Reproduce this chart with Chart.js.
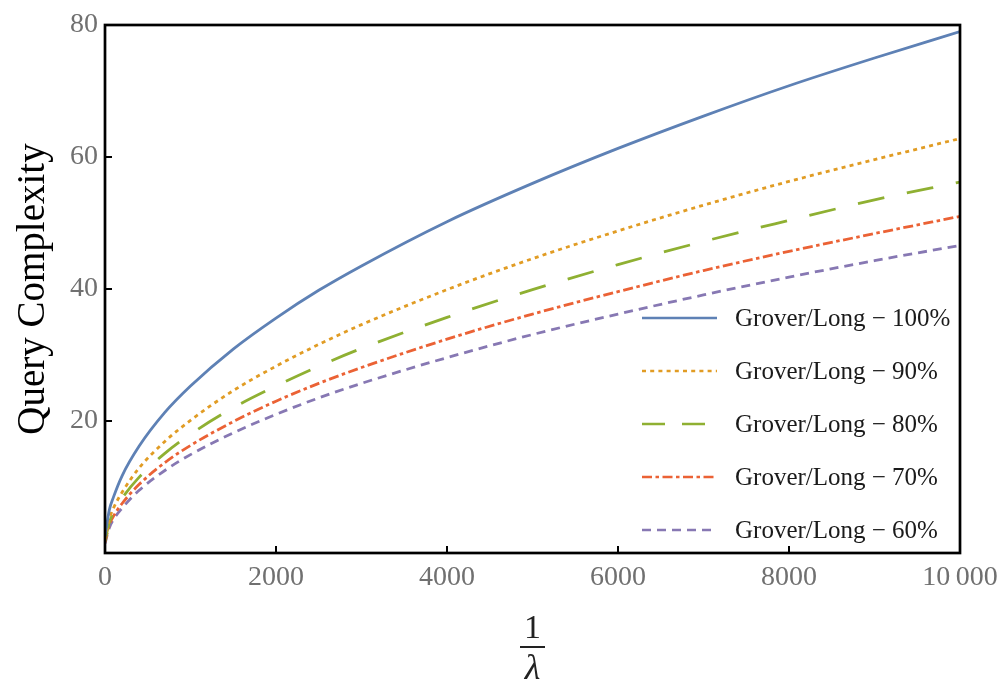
<!DOCTYPE html>
<html><head><meta charset="utf-8">
<script src="https://cdn.jsdelivr.net/npm/chart.js@4/dist/chart.umd.min.js"></script>
<style>html,body{margin:0;padding:0;background:#fff;overflow:hidden}#wrap{width:999px;height:682px}</style>
</head><body><div id="wrap"><canvas id="c" width="999" height="682"></canvas></div>
<script>
// ---- data ----
const xValues = [0, 50, 100, 200, 400, 700, 1000, 1500, 2000, 2500, 3000, 4000, 5000, 6000, 7000, 8000, 9000, 10000];
const seriesLabels = ['Grover/Long \u2212 100%', 'Grover/Long \u2212 90%', 'Grover/Long \u2212 80%', 'Grover/Long \u2212 70%', 'Grover/Long \u2212 60%'];
const p100 = [2.5, 6.5, 8.5, 11.7, 16.2, 21.3, 25.3, 30.9, 35.6, 39.8, 43.5, 50.2, 56.0, 61.3, 66.2, 70.8, 75.0, 79.0];
const p90  = [2.0, 5.1, 6.8, 9.2, 12.9, 16.9, 20.1, 24.6, 28.3, 31.6, 34.6, 39.9, 44.6, 48.8, 52.7, 56.3, 59.6, 62.8];
const p80  = [1.8, 4.6, 6.1, 8.3, 11.5, 15.1, 18.0, 22.0, 25.3, 28.3, 31.0, 35.7, 39.9, 43.7, 47.2, 50.4, 53.5, 56.2];
const p70  = [1.6, 4.2, 5.6, 7.5, 10.4, 13.7, 16.3, 19.9, 23.0, 25.7, 28.1, 32.4, 36.2, 39.6, 42.8, 45.7, 48.4, 51.0];
const p60  = [1.4, 3.8, 5.1, 6.8, 9.5, 12.5, 14.9, 18.2, 21.0, 23.5, 25.7, 29.6, 33.1, 36.2, 39.1, 41.8, 44.3, 46.6];
const xTicks = [0, 2000, 4000, 6000, 8000, 10000];
const yTicks = [20, 40, 60, 80];

// ---- styles ----
const seriesValues = [p100, p90, p80, p70, p60];
const colors = ['#5E81B5', '#E19C24', '#8FB032', '#EB6235', '#8778B3'];
const dashes = [[], [4, 4.2], [27, 23], [10, 3.5, 3.5, 3.5], [9, 6]];
const legendDashes = [[], [4, 4.2], [23, 17], [10, 3.5, 3.5, 3.5], [9, 6]];
const SERIF = '"Liberation Serif", "DejaVu Serif", serif';

const datasets = seriesValues.map((vals, i) => ({
  label: seriesLabels[i],
  data: xValues.map((x, j) => ({x: x, y: vals[j]})),
  borderColor: colors[i],
  backgroundColor: colors[i],
  borderWidth: 2.8,
  borderDash: dashes[i],
  borderCapStyle: 'butt',
  pointRadius: 0,
  cubicInterpolationMode: 'monotone',
  fill: false
}));

const framePlugin = {
  id: 'frame',
  afterDatasetsDraw(chart) {
    const {ctx, chartArea: a, scales} = chart;
    ctx.save();
    ctx.strokeStyle = '#000';
    ctx.lineWidth = 2;
    ctx.beginPath();
    xTicks.forEach(v => {
      const px = scales.x.getPixelForValue(v);
      ctx.moveTo(px, a.bottom); ctx.lineTo(px, a.bottom - 7);
    });
    yTicks.forEach(v => {
      const py = scales.y.getPixelForValue(v);
      ctx.moveTo(a.left, py); ctx.lineTo(a.left + 7, py);
    });
    ctx.stroke();
    ctx.lineWidth = 2.7;
    ctx.strokeRect(a.left, a.top, a.right - a.left, a.bottom - a.top);
    ctx.restore();
  },
  afterDraw(chart) {
    const {ctx, chartArea: a} = chart;
    ctx.save();
    // legend
    const lx0 = a.right - 318, lx1 = a.right - 243, tx = a.right - 225;
    chart.data.datasets.forEach((ds, i) => {
      const y = a.bottom - 235 + i * 53;
      ctx.strokeStyle = ds.borderColor;
      ctx.lineWidth = 2.6;
      ctx.lineCap = 'butt';
      ctx.setLineDash(legendDashes[i]);
      ctx.beginPath(); ctx.moveTo(lx0, y); ctx.lineTo(lx1, y); ctx.stroke();
      ctx.setLineDash([]);
      ctx.fillStyle = '#1a1a1a';
      ctx.font = '25px ' + SERIF;
      ctx.textAlign = 'left';
      ctx.textBaseline = 'middle';
      ctx.fillText(ds.label, tx, y + 1);
    });
    // x-axis title: fraction 1 / lambda
    const cx = (a.left + a.right) / 2;
    ctx.fillStyle = '#222';
    ctx.strokeStyle = '#222';
    ctx.textAlign = 'center';
    ctx.textBaseline = 'alphabetic';
    ctx.font = '34px ' + SERIF;
    ctx.fillText('1', cx, 638);
    ctx.lineWidth = 2;
    ctx.beginPath(); ctx.moveTo(cx - 12.5, 647); ctx.lineTo(cx + 12.5, 647); ctx.stroke();
    ctx.font = 'italic 36px ' + SERIF;
    ctx.fillText('\u03BB', cx, 679);
    ctx.restore();
  }
};

new Chart(document.getElementById('c'), {
  type: 'line',
  data: {datasets},
  options: {
    responsive: false,
    devicePixelRatio: 1,
    animation: false,
    layout: {padding: {left: 0, right: 39, top: 25, bottom: 0}},
    plugins: {legend: {display: false}, tooltip: {enabled: false}},
    scales: {
      x: {
        type: 'linear', min: 0, max: 10000,
        afterBuildTicks: s => { s.ticks = xTicks.map(v => ({value: v})); },
        afterFit: s => { s.height = 129; s.paddingLeft = 0; s.paddingRight = 0; },
        grid: {display: false, drawTicks: false},
        border: {display: false},
        ticks: {
          font: {family: SERIF, size: 28}, color: '#707070', padding: 8,
          maxRotation: 0, autoSkip: false,
          callback: v => v === 10000 ? '10\u2009000' : String(v)
        }
      },
      y: {
        type: 'linear', min: 0, max: 80,
        afterBuildTicks: s => { s.ticks = yTicks.map(v => ({value: v})); },
        afterFit: s => { s.width = 105; s.paddingTop = 0; s.paddingBottom = 0; },
        grid: {display: false, drawTicks: false},
        border: {display: false},
        ticks: {font: {family: SERIF, size: 28}, color: '#707070', padding: 7, autoSkip: false},
        title: {display: true, text: 'Query Complexity', color: '#000', font: {family: SERIF, size: 39}, padding: {top: 10, bottom: 0}}
      }
    }
  },
  plugins: [framePlugin]
});
</script>
</body></html>
